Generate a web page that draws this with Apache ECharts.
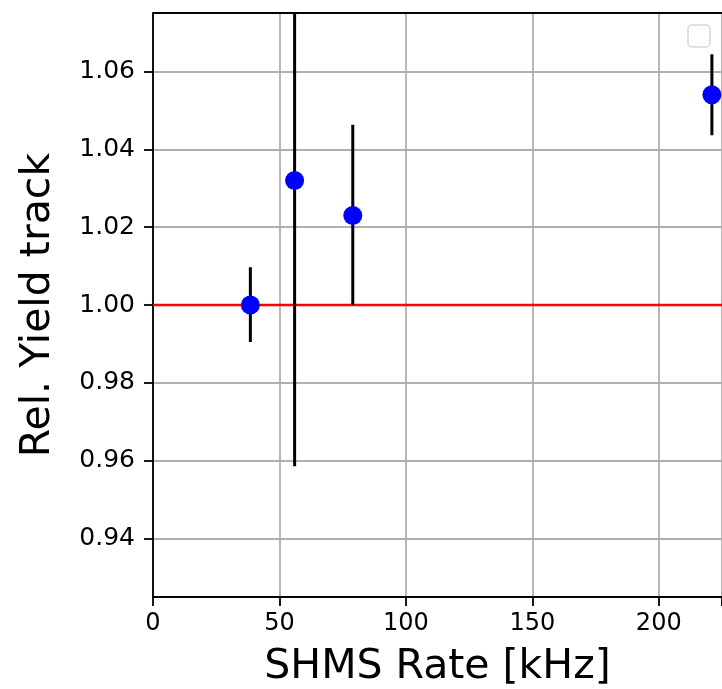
<!DOCTYPE html>
<html><head><meta charset="utf-8">
<script src="https://cdn.jsdelivr.net/npm/echarts@6/dist/echarts.min.js"></script>
<style>html,body{margin:0;padding:0;background:#fff}#c{width:722px;height:689px}</style>
</head><body><div id="c"></div>
<script>
const rates = [38.5, 56, 79, 221];
const yields = [1.000, 1.032, 1.023, 1.054];
const errLow = [0.0095, 0.0734, 0.0229, 0.0104];
const errHigh = [0.0097, 0.0734, 0.0233, 0.0104];
const xTicks = [0, 50, 100, 150, 200];
const yTicks = [0.94, 0.96, 0.98, 1.00, 1.02, 1.04, 1.06];
const refValue = 1.0;

const font = 'DejaVu Sans';
const chart = echarts.init(document.getElementById('c'), null, {renderer: 'canvas'});
const errData = rates.map((x, i) => [x, yields[i] - errLow[i], yields[i] + errHigh[i]]);
chart.setOption({
  animation: false,
  grid: {left: 153, top: 13, right: 0, bottom: 92, show: false, containLabel: false, outerBoundsMode: 'none'},
  xAxis: {
    type: 'value', min: 0, max: 225, interval: 50,
    name: 'SHMS Rate [kHz]', nameLocation: 'middle', nameGap: 50,
    nameTextStyle: {fontFamily: font, fontSize: 41, color: '#000'},
    axisLine: {onZero: false, lineStyle: {color: '#000', width: 1.8}},
    axisTick: {show: true, length: 9, lineStyle: {color: '#000', width: 1.8}},
    axisLabel: {fontFamily: font, fontSize: 24, color: '#000', margin: 15, customValues: xTicks,
      formatter: v => String(v)},
    splitLine: {show: true, lineStyle: {color: '#b0b0b0', width: 1.8}}
  },
  yAxis: {
    type: 'value', min: 0.925, max: 1.075,
    name: 'Rel. Yield track', nameLocation: 'middle', nameGap: 94,
    nameTextStyle: {fontFamily: font, fontSize: 41, color: '#000'},
    axisLine: {onZero: false, lineStyle: {color: '#000', width: 1.8}},
    axisTick: {show: true, length: 9, customValues: yTicks, lineStyle: {color: '#000', width: 1.8}},
    axisLabel: {fontFamily: font, fontSize: 25, color: '#000', margin: 18, customValues: yTicks,
      formatter: v => v.toFixed(2)},
    splitLine: {show: true, lineStyle: {color: '#b0b0b0', width: 1.8}}
  },
  graphic: [
    {type: 'line', shape: {x1: 153, y1: 13, x2: 722, y2: 13}, style: {stroke: '#000', lineWidth: 1.8}, z: 100},
    {type: 'rect', shape: {x: 688, y: 25, width: 22, height: 22, r: 4}, style: {fill: '#fff', stroke: '#d8d8d8', lineWidth: 1.5}, z: 100}
  ],
  series: [
    {
      type: 'line', data: [[0, refValue], [225, refValue]], symbol: 'none',
      lineStyle: {color: '#ff0000', width: 2.5}, z: 1, silent: true
    },
    {
      type: 'custom', data: errData, clip: true, z: 2,
      renderItem: (params, api) => {
        const p1 = api.coord([api.value(0), api.value(1)]);
        const p2 = api.coord([api.value(0), api.value(2)]);
        return {type: 'line', shape: {x1: p1[0], y1: p1[1], x2: p2[0], y2: p2[1]},
          style: {stroke: '#000', lineWidth: 3}};
      }
    },
    {
      type: 'scatter', data: rates.map((x, i) => [x, yields[i]]), symbol: 'circle', symbolSize: 19,
      itemStyle: {color: '#0000ff', opacity: 1}, z: 3
    }
  ]
});
</script></body></html>
